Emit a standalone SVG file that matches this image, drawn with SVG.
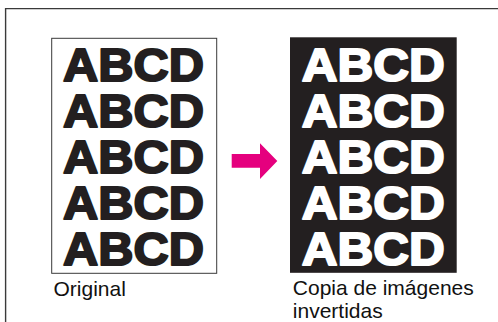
<svg xmlns="http://www.w3.org/2000/svg" width="498" height="322" viewBox="0 0 498 322">
<style>
.big{font-family:"Liberation Sans",Arial,sans-serif;font-weight:bold;font-size:46px;text-anchor:middle}
.blk{fill:#231f20;stroke:#231f20;stroke-width:2;stroke-linejoin:round}
.wht{fill:#fff;stroke:#fff;stroke-width:2;stroke-linejoin:round}
.lbl{font-family:"Liberation Sans",Arial,sans-serif;font-size:21px;fill:#111}
</style>
<rect width="498" height="322" fill="#fff"/>
<path d="M5.6,322 V8.6 H498" fill="none" stroke="#3a3a3a" stroke-width="1.4"/>
<g id="original">
<rect x="51.7" y="38.3" width="165" height="235" fill="#fff" stroke="#3a3a3a" stroke-width="1"/>
<g class="big blk">
<text x="133.5" y="80.5" textLength="141" lengthAdjust="spacingAndGlyphs">ABCD</text>
<text x="133.5" y="126.6" textLength="141" lengthAdjust="spacingAndGlyphs">ABCD</text>
<text x="133.5" y="172.7" textLength="141" lengthAdjust="spacingAndGlyphs">ABCD</text>
<text x="133.5" y="218.8" textLength="141" lengthAdjust="spacingAndGlyphs">ABCD</text>
<text x="133.5" y="264.9" textLength="141" lengthAdjust="spacingAndGlyphs">ABCD</text>
</g>
<text class="lbl" x="53.5" y="296">Original</text>
</g>
<g id="connectors">
<path d="M231.7,154 H260 V143.3 L277.3,161 L260,179 V167.7 H231.7 Z" fill="#e5007e"/>
</g>
<g id="inverted">
<rect x="290" y="37.3" width="166.7" height="235.5" fill="#231f20"/>
<g class="big wht">
<text x="373.2" y="80.5" textLength="143" lengthAdjust="spacingAndGlyphs">ABCD</text>
<text x="373.2" y="126.6" textLength="143" lengthAdjust="spacingAndGlyphs">ABCD</text>
<text x="373.2" y="172.7" textLength="143" lengthAdjust="spacingAndGlyphs">ABCD</text>
<text x="373.2" y="218.8" textLength="143" lengthAdjust="spacingAndGlyphs">ABCD</text>
<text x="373.2" y="264.9" textLength="143" lengthAdjust="spacingAndGlyphs">ABCD</text>
</g>
<text class="lbl" x="292.8" y="294.5">Copia de imágenes</text>
<text class="lbl" x="292.8" y="318">invertidas</text>
</g>
</svg>
